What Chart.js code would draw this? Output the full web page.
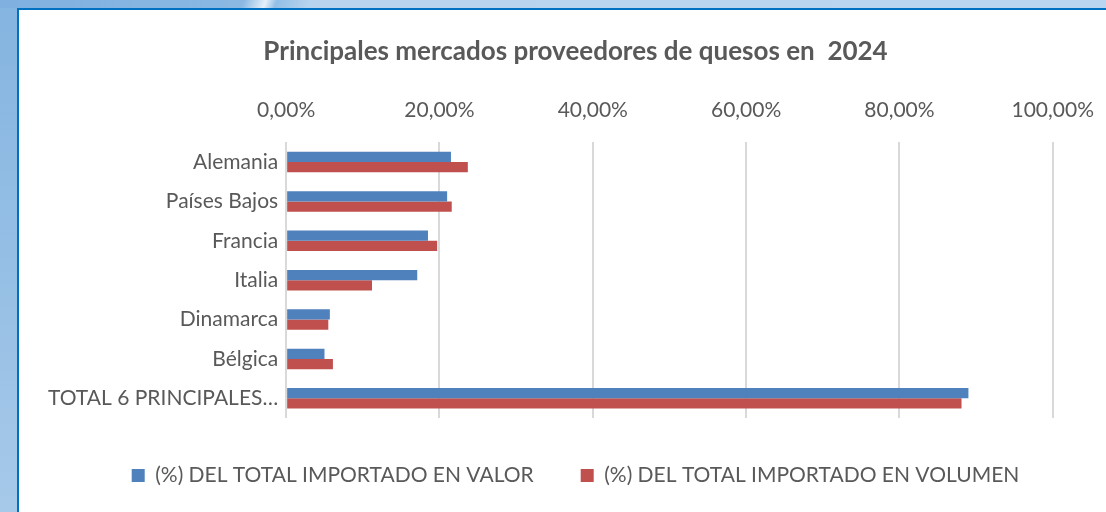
<!DOCTYPE html>
<html>
<head>
<meta charset="utf-8">
<script src="https://cdn.jsdelivr.net/npm/chart.js@4/dist/chart.umd.min.js"></script>
<style>
  html, body { margin: 0; padding: 0; }
  body {
    width: 1106px; height: 512px; overflow: hidden; position: relative;
    background: linear-gradient(to bottom, #84b4e0, #a6c9e9);
  }
  #topband {
    position: absolute; left: 0; top: 0; width: 1106px; height: 8px;
    background: linear-gradient(110deg, #7fb0df 0%, #8ab8e3 22%, #e6f0fa 24%, #93bfe6 25%, #b7d3ee 28%, #b9d5ef 100%);
  }
  #frame {
    position: absolute; left: 17px; top: 8px; width: 1089px; height: 504px;
    border-left: 2px solid #0070c0; border-top: 2px solid #0070c0;
    background: #ffffff; box-sizing: border-box; overflow: hidden;
  }
  #wrap { position: absolute; left: 0; top: 0; width: 1095px; height: 502px; }
</style>
</head>
<body>
<div id="topband"></div>
<div id="frame"><div id="wrap"><canvas id="chart"></canvas></div></div>
<script>
var categories = ['Alemania', 'Países Bajos', 'Francia', 'Italia', 'Dinamarca', 'Bélgica', 'TOTAL 6 PRINCIPALES…'];
var valorPct = [21.5, 21.0, 18.5, 17.1, 5.7, 5.0, 89.0];
var volumenPct = [23.7, 21.6, 19.7, 11.2, 5.5, 6.1, 88.1];
var seriesNames = ['(%) DEL TOTAL IMPORTADO EN VALOR', '(%) DEL TOTAL IMPORTADO EN VOLUMEN'];
var tickValues = [0, 20, 40, 60, 80, 100];
var tickLabels = ['0,00%', '20,00%', '40,00%', '60,00%', '80,00%', '100,00%'];
var chartTitle = 'Principales mercados proveedores de quesos en  2024';

var FONT = 'Lato, "Open Sans", sans-serif';
var GREY = '#595959';

window.addEventListener('load', function() {
  var ctx = document.getElementById('chart').getContext('2d');
  new Chart(ctx, {
    type: 'bar',
    data: {
      labels: categories,
      datasets: [{
        label: seriesNames[0],
        data: valorPct,
        backgroundColor: '#4f81bd',
        borderWidth: 0,
        categoryPercentage: 0.52,
        barPercentage: 1
      }, {
        label: seriesNames[1],
        data: volumenPct,
        backgroundColor: '#c0504d',
        borderWidth: 0,
        categoryPercentage: 0.52,
        barPercentage: 1
      }]
    },
    options: {
      indexAxis: 'y',
      responsive: true,
      maintainAspectRatio: false,
      animation: false,
      layout: { padding: { left: 21, right: 3, top: 0, bottom: 16 } },
      scales: {
        x: {
          position: 'top',
          min: 0,
          max: 100,
          afterBuildTicks: function(scale) {
            scale.ticks = tickValues.map(function(v) { return { value: v }; });
          },
          ticks: {
            color: GREY,
            font: { family: FONT, size: 21 },
            padding: 20,
            callback: function(value) {
              var i = tickValues.indexOf(value);
              return i >= 0 ? tickLabels[i] : '';
            }
          },
          grid: { color: '#d9d9d9', lineWidth: 2, drawTicks: false },
          border: { display: false }
        },
        y: {
          ticks: { color: GREY, font: { family: FONT, size: 21 }, padding: 8 },
          grid: { display: false, drawTicks: false },
          border: { display: false }
        }
      },
      plugins: {
        title: {
          display: true,
          text: chartTitle,
          color: GREY,
          font: { family: FONT, size: 26, weight: 'bold' },
          padding: { top: 26, bottom: 10 }
        },
        legend: {
          position: 'bottom',
          labels: {
            color: GREY,
            font: { family: FONT, size: 21 },
            boxWidth: 13,
            boxHeight: 13,
            padding: 47
          }
        },
        tooltip: { enabled: false }
      }
    }
  });
});
</script>
</body>
</html>
